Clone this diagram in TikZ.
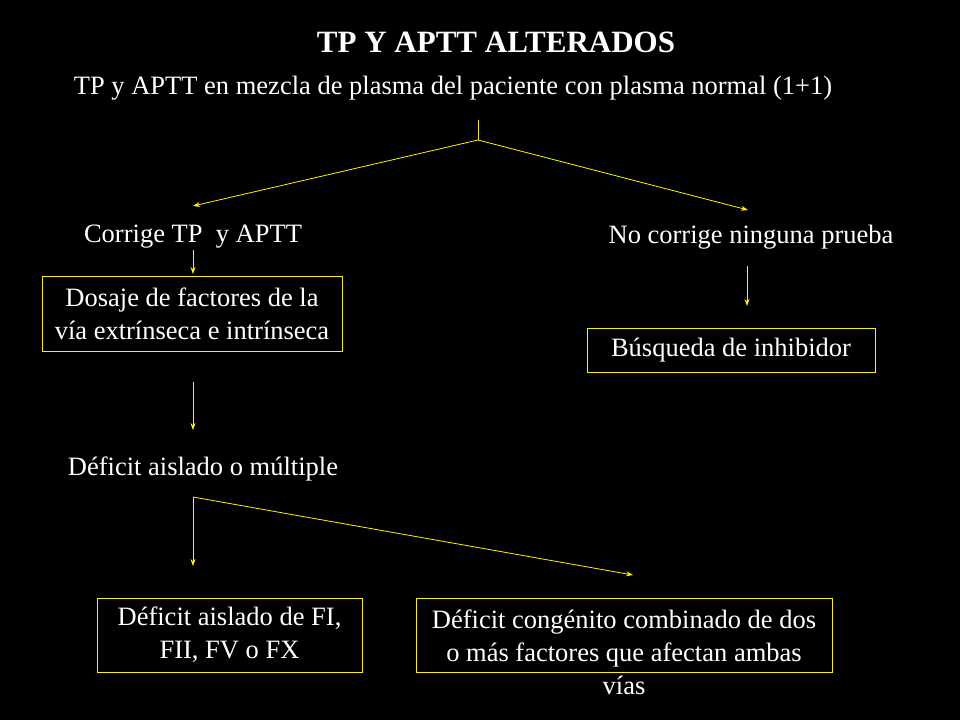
\documentclass[tikz,border=0pt]{standalone}
\usepackage{fontspec}
\setmainfont{Liberation Serif}
\usetikzlibrary{positioning,arrows.meta}
\tikzset{
  txt/.style={text=white,font=\fontsize{26.5}{33}\selectfont,align=center},
  boxed/.style={draw=yellow,thick},
  link/.style={draw=yellow,line width=0.8pt,-{Stealth[length=7pt,width=5pt]}}
}
\begin{document}
\begin{tikzpicture}[x=1pt,y=-1pt]
    \fill[black] (0,0) rectangle (960,720);

    \node[txt,font=\fontsize{31}{36}\selectfont\bfseries] (title) at (496,42) {TP Y APTT ALTERADOS};
    \node[txt] (mix) at (453,88) {TP y APTT en mezcla de plasma del paciente con plasma normal (1+1)};

    \coordinate (top) at (478,120);
    \coordinate (split) at (478,140);
    \coordinate (leftend) at (193,206);
    \coordinate (rightend) at (748,210);

    \node[txt] (corr) at (193,237) {Corrige TP\ \ y APTT};
    \node[txt] (nocorr) at (751,237) {No corrige ninguna prueba};

    \node[boxed,minimum width=300,minimum height=75] (dosaje) at (192,314) {};
    \node[txt] (dosajetxt) at (192,314) {Dosaje de factores de la\\v\'ia extr\'inseca e intr\'inseca};
    \node[boxed,minimum width=288,minimum height=44] (busq) at (731,350) {};
    \node[txt] (busqtxt) at (731,350) {B\'usqueda de inhibidor};

    \node[txt] (deficit) at (203,469) {D\'eficit aislado o m\'ultiple};
    \coordinate (split2) at (193,497);
    \coordinate (rightend2) at (633,575);

    \node[boxed,minimum width=265,minimum height=74] (aislado) at (229.5,635) {};
    \node[txt] (aisladotxt) at (229.5,635) {D\'eficit aislado de FI,\\FII, FV o FX};
    \node[boxed,minimum width=416,minimum height=74] (comb) at (624,635) {};
    \node[txt] (combtxt) at (624,652) {D\'eficit cong\'enito combinado de dos\\o m\'as factores que afectan ambas\\v\'ias};

    \draw[draw=yellow,line width=0.8pt] (top) -- (split);
    \draw[link] (split) -- (leftend);
    \draw[link] (split) -- (rightend);
    \draw[link] (193,250) -- (193,274);
    \draw[link] (747,266) -- (747,306);
    \draw[link] (193,382) -- (193,430);
    \draw[link] (split2) -- (193,566);
    \draw[link] (split2) -- (rightend2);
\end{tikzpicture}
\end{document}
